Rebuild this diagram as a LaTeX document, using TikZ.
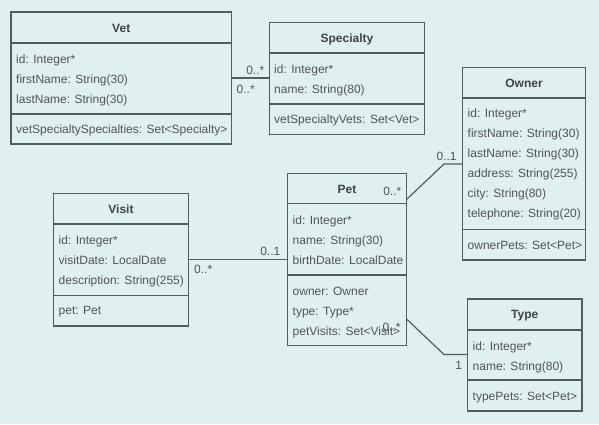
\documentclass[tikz,border=0pt]{standalone}
\usepackage{fontspec}
\setmainfont{Liberation Sans}
\definecolor{bgc}{HTML}{DFF0EF}
\definecolor{linec}{HTML}{4F5F5F}
\definecolor{textc}{HTML}{505555}
\definecolor{titlec}{HTML}{3E4444}
\newcommand\umlbox[7]{%
  \node[cls, minimum width={#4-#2}, minimum height={#5-#3}] (#1) at (#2,#3) {};
  \draw[divline] (#2,#6) -- (#4,#6);
  \draw[divline] (#2,#7) -- (#4,#7);
}
\newcommand\ttl[4]{\node[ttlst] (#1) at (#2,#3) {#4};}
\newcommand\attr[4]{\node[attrst] (#1) at (#2,#3) {#4};}
\begin{document}
\begin{tikzpicture}[x=1pt,y=-1pt,
  cls/.style={draw=linec, line width=1.3pt, inner sep=0pt, outer sep=0pt, anchor=north west},
  divline/.style={draw=linec, line width=1.3pt},
  ttlst/.style={font=\fontsize{12}{14}\selectfont\bfseries, text=titlec, inner sep=0pt, anchor=base},
  attrst/.style={font=\fontsize{12}{14}\selectfont, text=textc, inner sep=0pt, anchor=base west},
  multst/.style={font=\fontsize{12}{14}\selectfont, text=textc, inner sep=0pt},
  assoc/.style={draw=linec, line width=1.2pt}]
\useasboundingbox[fill=bgc] (0,0) rectangle (599,424);

% Vet
\umlbox{vet}{11}{12}{231.5}{144}{43}{114}
\ttl{vett}{121.25}{32}{Vet}
\attr{veta1}{16}{63.8}{id: Integer*}
\attr{veta2}{16}{83.8}{firstName: String(30)}
\attr{veta3}{16}{103.8}{lastName: String(30)}
\attr{vetm1}{16}{133.6}{vetSpecialtySpecialties: Set<Specialty>}

% Specialty
\umlbox{spec}{269.5}{22.5}{424.5}{134.5}{53}{104}
\ttl{spect}{347}{42.3}{Specialty}
\attr{speca1}{274}{73.6}{id: Integer*}
\attr{speca2}{274}{93.6}{name: String(80)}
\attr{specm1}{274}{123.6}{vetSpecialtyVets: Set<Vet>}

% Owner
\umlbox{owner}{462.5}{67.5}{585.5}{260}{98}{229.5}
\ttl{ownert}{524}{87.3}{Owner}
\attr{ownera1}{467.5}{117.8}{id: Integer*}
\attr{ownera2}{467.5}{137.8}{firstName: String(30)}
\attr{ownera3}{467.5}{157.8}{lastName: String(30)}
\attr{ownera4}{467.5}{177.8}{address: String(255)}
\attr{ownera5}{467.5}{197.8}{city: String(80)}
\attr{ownera6}{467.5}{217.8}{telephone: String(20)}
\attr{ownerm1}{467.5}{249.3}{ownerPets: Set<Pet>}

% Pet
\umlbox{pet}{287.5}{173.5}{406.5}{345.5}{203.5}{275}
\ttl{pett}{347}{193.3}{Pet}
\attr{peta1}{292.5}{224.3}{id: Integer*}
\attr{peta2}{292.5}{244.3}{name: String(30)}
\attr{peta3}{292.5}{264.3}{birthDate: LocalDate}
\attr{petm1}{292.5}{295}{owner: Owner}
\attr{petm2}{292.5}{315}{type: Type*}
\attr{petm3}{292.5}{335}{petVisits: Set<Visit>}

% Visit
\umlbox{visit}{53.5}{193.5}{188.5}{326}{224}{295.5}
\ttl{visitt}{121}{213.3}{Visit}
\attr{visita1}{58.5}{244.3}{id: Integer*}
\attr{visita2}{58.5}{264.3}{visitDate: LocalDate}
\attr{visita3}{58.5}{284.3}{description: String(255)}
\attr{visitm1}{58.5}{314.8}{pet: Pet}

% Type
\umlbox{type}{467.5}{299}{582}{411}{330}{380}
\ttl{typet}{524.75}{318.8}{Type}
\attr{typea1}{472.5}{350.3}{id: Integer*}
\attr{typea2}{472.5}{370.3}{name: String(80)}
\attr{typem1}{472.5}{400}{typePets: Set<Pet>}

% associations
\coordinate (vsy) at (250,78);
\draw[assoc] (vsy -| vet.east) -- (vsy -| spec.west);
\node[multst, anchor=base east] (m1) at (264.5,74.5) {0..*};
\node[multst, anchor=base west] (m2) at (236.5,93.5) {0..*};

\coordinate (pob) at (444,164);
\draw[assoc] ([yshift=-26pt]pet.north east) -- (pob) -- (pob -| owner.west);
\node[multst, anchor=base east] (m3) at (456.8,160.3) {0..1};
\node[multst, anchor=base east] (m4) at (401.5,195.3) {0..*};

\coordinate (ptb) at (444,354.5);
\draw[assoc] ([yshift=-145.5pt]pet.north east) -- (ptb) -- (ptb -| type.west);
\node[multst, anchor=base east] (m5) at (400.8,331.5) {0..*};
\node[multst, anchor=base east] (m6) at (462.3,369.5) {1};

\coordinate (vpy) at (240,259.3);
\draw[assoc] (vpy -| visit.east) -- (vpy -| pet.west);
\node[multst, anchor=base east] (m7) at (280.5,255.3) {0..1};
\node[multst, anchor=base west] (m8) at (194,273.5) {0..*};
\end{tikzpicture}
\end{document}
